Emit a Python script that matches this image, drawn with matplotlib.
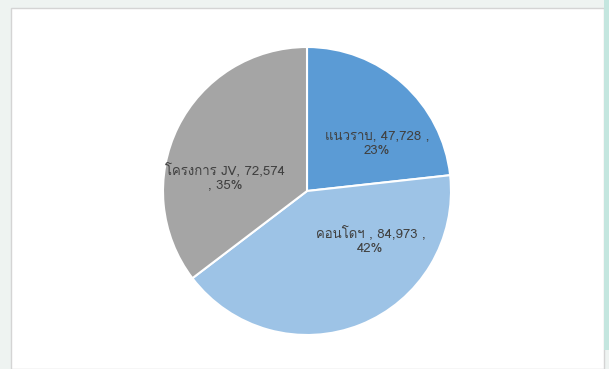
import matplotlib
matplotlib.use("Agg")
import matplotlib.pyplot as plt
from matplotlib import font_manager
from matplotlib.ft2font import FT2Font
from matplotlib.patches import Rectangle
import numpy as np

# project segments and unit counts
categories = ["แนวราบ", "คอนโดฯ ", "โครงการ JV"]
values = [47728, 84973, 72574]
percents = [23, 42, 35]
colors = ["#5B9BD5", "#9DC3E6", "#A5A5A5"]


def thai_family():
    # pick any installed family that actually carries Thai glyphs
    for f in font_manager.fontManager.ttflist:
        try:
            if 0x0E01 in FT2Font(f.fname).get_charmap():
                return f.name
        except Exception:
            continue
    return None


fam = thai_family()
families = [fam, "DejaVu Sans"] if fam else ["DejaVu Sans"]

fig = plt.figure(figsize=(6.09, 3.69), dpi=100)
fig.patch.set_facecolor("#EEF3F1")

# white chart panel with a thin grey frame, kept behind the pie
fig.add_artist(Rectangle((11 / 609, 0), 593 / 609, 1 - 8 / 369,
                         transform=fig.transFigure, facecolor="white",
                         edgecolor="#D4D4D4", linewidth=1.0, zorder=-5))
fig.add_artist(Rectangle((604 / 609, 19 / 369), 5 / 609, 1 - 19 / 369,
                         transform=fig.transFigure, facecolor="#C4E6DF",
                         edgecolor="none", zorder=-5))

# pie is 288 px across, centred at (307, 191)
ax = fig.add_axes([163 / 609, 1 - 335 / 369, 288 / 609, 288 / 369])
ax.set_facecolor("none")
wedges, _ = ax.pie(values, colors=colors, startangle=90, counterclock=False,
                   wedgeprops=dict(edgecolor="white", linewidth=1.5))
ax.set_xlim(-1, 1)
ax.set_ylim(-1, 1)
ax.set_aspect("equal")
ax.axis("off")

# label anchor points in pie radius units
label_pos = [(0.485, 0.33), (0.44, -0.34), (-0.57, 0.10)]
label_fmt = ["{c}, {v:,} ,\n{p}%", "{c}, {v:,} ,\n{p}%", "{c}, {v:,}\n, {p}%"]

for cat, val, pct, (x, y), fmt in zip(categories, values, percents, label_pos, label_fmt):
    ax.text(x, y, fmt.format(c=cat, v=val, p=pct), ha="center", va="center",
            fontsize=9.5, color="#404040", family=families, linespacing=1.3)

fig.savefig("out.png", dpi=100, facecolor=fig.get_facecolor())
